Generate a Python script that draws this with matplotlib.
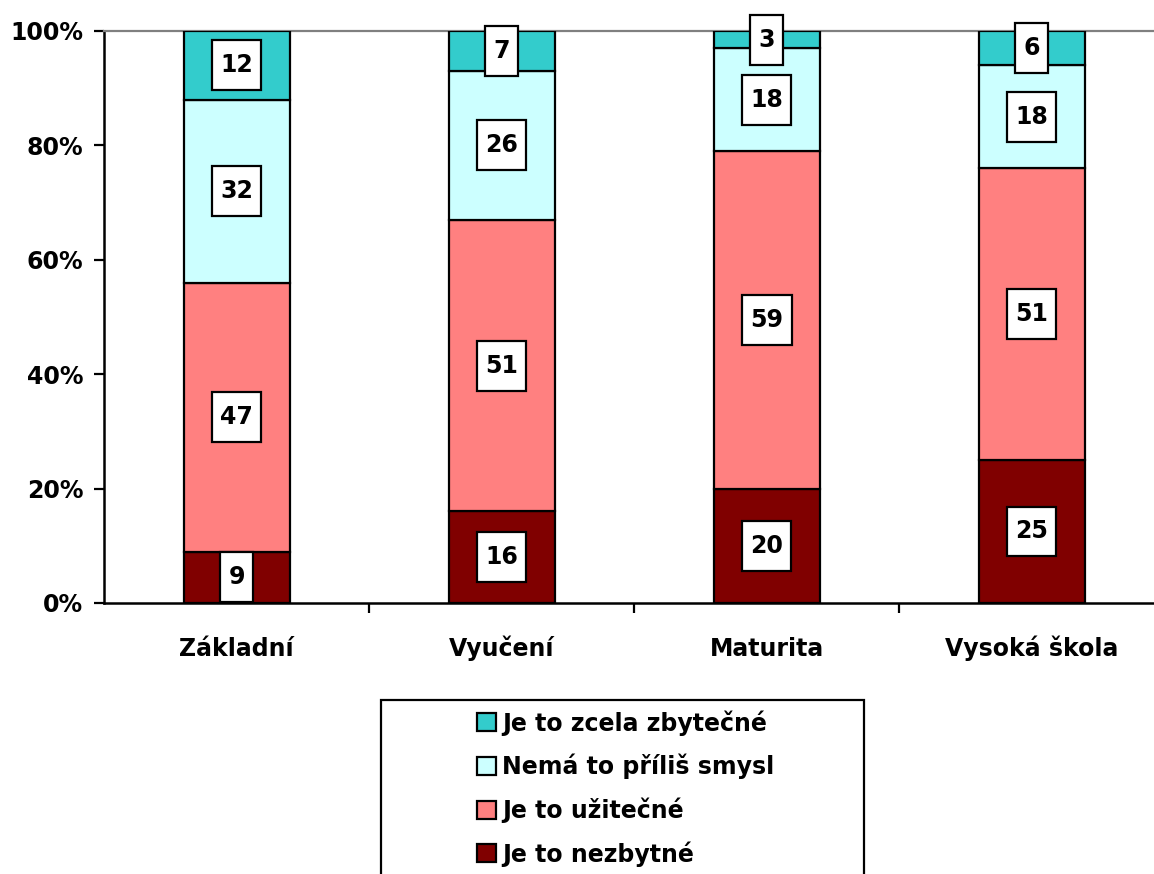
import matplotlib
matplotlib.use("Agg")
import matplotlib.pyplot as plt
from matplotlib.patches import Rectangle
from matplotlib.path import Path
import numpy as np

plt.rcParams['font.family'] = ['DejaVu Sans']
plt.rcParams['font.weight'] = 'bold'

categories = ["Základní", "Vyučení", "Maturita", "Vysoká škola"]
series_names = ["Je to nezbytné", "Je to užitečné", "Nemá to příliš smysl", "Je to zcela zbytečné"]
nezbytne = [9, 16, 20, 25]
uzitecne = [47, 51, 59, 51]
nema_smysl = [32, 26, 18, 18]
zbytecne = [12, 7, 3, 6]
colors = ["#800000", "#FF8080", "#CCFFFF", "#33CCCC"]
y_ticks = [0, 20, 40, 60, 80, 100]
y_tick_labels = ["0%", "20%", "40%", "60%", "80%", "100%"]

W, H = 1154, 874
fig = plt.figure(figsize=(W / 100, H / 100), dpi=100)
ax = fig.add_axes([104 / W, 1 - 603 / H, 1060 / W, 572 / H])

FS = 17


def label_box(x0, y0, width, height, mutation_size):
    # rectangular box with more vertical than horizontal padding
    px = 0.36 * mutation_size
    py = 0.55 * mutation_size
    x0, y0 = x0 - px, y0 - py
    x1, y1 = x0 + width + 2 * px, y0 + height + 2 * py
    return Path([(x0, y0), (x1, y0), (x1, y1), (x0, y1), (x0, y0)],
                closed=True)


x = np.arange(len(categories))
series = [nezbytne, uzitecne, nema_smysl, zbytecne]
bottom = np.zeros(len(categories))
bars = []
for name, vals, col in zip(series_names, series, colors):
    vals = np.array(vals, dtype=float)
    b = ax.bar(x, vals, 0.4, bottom=bottom, color=col, edgecolor="black",
               linewidth=1.6, label=name, zorder=3)
    bars.append(b)
    for xi, v, bt in zip(x, vals, bottom):
        ax.text(xi, bt + v / 2, f"{int(v)}", ha="center", va="center",
                fontsize=FS, fontweight="bold", zorder=5, clip_on=False,
                bbox=dict(boxstyle=label_box, facecolor="white",
                          edgecolor="black", linewidth=1.6))
    bottom = bottom + vals

ax.set_xlim(-0.5, len(categories) - 0.5)
ax.set_ylim(0, 100)
ax.set_yticks(y_ticks)
ax.set_yticklabels(y_tick_labels, fontsize=FS, fontweight="bold")
ax.tick_params(axis="y", length=7, width=1.6, direction="out", pad=8)

ax.set_xticks(x)
ax.set_xticklabels(categories, fontsize=FS, fontweight="bold", va="baseline")
ax.tick_params(axis="x", which="major", length=0, pad=38)
ax.set_xticks(np.arange(len(categories) - 1) + 0.5, minor=True)
ax.tick_params(axis="x", which="minor", length=7, width=1.6, direction="out")

for side in ["left", "bottom"]:
    ax.spines[side].set_color("black")
    ax.spines[side].set_linewidth(1.8)
ax.spines["top"].set_color("#808080")
ax.spines["top"].set_linewidth(1.6)
ax.spines["right"].set_visible(False)

# legend with an outer frame
handles = [bars[i] for i in [3, 2, 1, 0]]
labels = [series_names[i] for i in [3, 2, 1, 0]]
leg = fig.legend(handles, labels, loc="upper left",
                 bbox_to_anchor=(477 / W, 1 - 710 / H),
                 frameon=False, prop=dict(weight="bold", size=FS),
                 handlelength=0.8, handleheight=0.8, handletextpad=0.25,
                 labelspacing=0.77, borderpad=0, borderaxespad=0)
frame = Rectangle((381 / W, -10 / H), (864 - 381) / W, (H + 10 - 700) / H,
                  transform=fig.transFigure, fill=False, edgecolor="black",
                  linewidth=1.6, clip_on=False)
fig.patches.append(frame)

fig.savefig("out.png", dpi=100)
